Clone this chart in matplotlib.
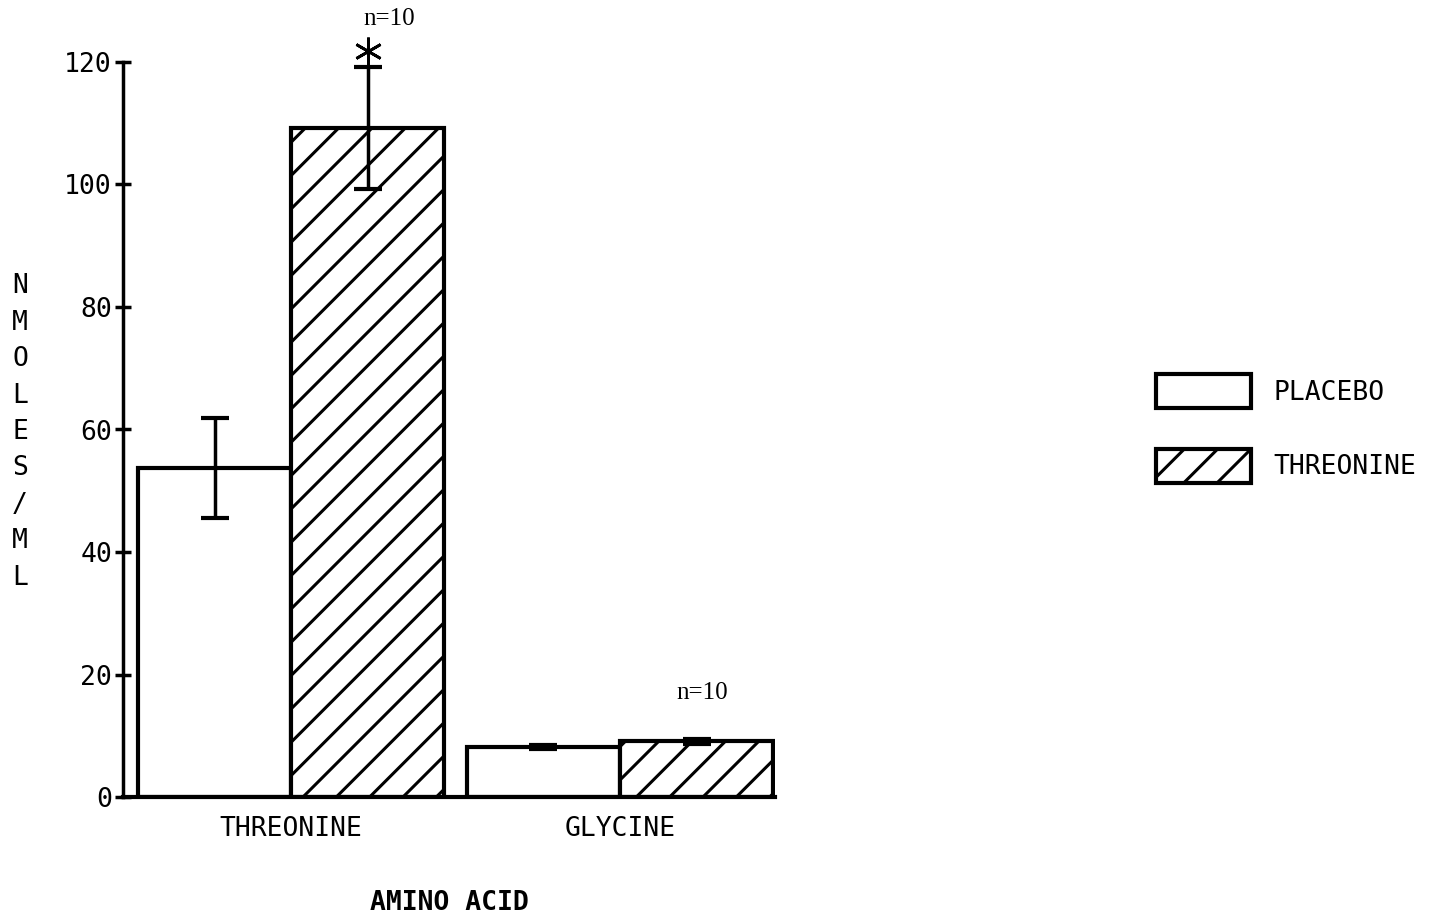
import matplotlib
matplotlib.use("Agg")
import matplotlib.pyplot as plt
import numpy as np

groups = ["THREONINE", "GLYCINE"]
placebo = [53.7, 8.2]
placebo_err = [8.2, 0.3]
threonine = [109.2, 9.1]
threonine_err = [10.0, 0.4]
n_labels = ["n=10", "n=10"]
n_label_y = [127.0, 17.0]
star_y = [121.8]

mono = "DejaVu Sans Mono"
plt.rcParams["hatch.linewidth"] = 2.2

fig = plt.figure(figsize=(14.48, 9.21), dpi=100)
ax = fig.add_axes([123 / 1448, 1 - 797 / 921, (775 - 123) / 1448, (797 - 62) / 921])

x = np.array([0.0, 2.15])
w = 1.0
b1 = ax.bar(x - w / 2, placebo, w, color="white", edgecolor="black", linewidth=3,
            label="PLACEBO", zorder=2)
b2 = ax.bar(x + w / 2, threonine, w, color="white", edgecolor="black", linewidth=3,
            hatch="/", label="THREONINE", zorder=2)
ax.errorbar(x - w / 2, placebo, yerr=placebo_err, fmt="none", ecolor="black",
            elinewidth=2.5, capsize=10, capthick=3, zorder=3)
ax.errorbar(x + w / 2, threonine, yerr=threonine_err, fmt="none", ecolor="black",
            elinewidth=2.5, capsize=10, capthick=3, zorder=3)

# significance mark and n labels
ax.plot([x[0] + w / 2], star_y, marker=(6, 2, 0), markersize=20, color="black",
        markeredgewidth=2, clip_on=False, zorder=4)
ax.text(x[0] + w / 2 + 0.14, n_label_y[0], n_labels[0], ha="center", va="center",
        fontsize=18, family="Liberation Serif", clip_on=False)
ax.text(x[1] + w / 2 + 0.04, n_label_y[1], n_labels[1], ha="center", va="center",
        fontsize=18, family="Liberation Serif")

ax.set_xlim(-1.098, 3.163)
ax.set_ylim(0, 120)
ax.set_yticks(np.arange(0, 121, 20))
ax.set_xticks(x)
ax.set_xticklabels(groups, family=mono, fontsize=19)
for lab in ax.get_yticklabels():
    lab.set_family(mono)
    lab.set_fontsize(19)
ax.tick_params(axis="y", direction="inout", length=12, width=2.5, pad=2)
ax.tick_params(axis="x", length=0, pad=14)

ax.spines["top"].set_visible(False)
ax.spines["right"].set_visible(False)
ax.spines["left"].set_linewidth(2.5)
ax.spines["bottom"].set_linewidth(3)

ax.set_xlabel("AMINO ACID", family=mono, fontsize=19, fontweight="bold", labelpad=34)
fig.text(20 / 1448, 1 - 432 / 921, "N\nM\nO\nL\nE\nS\n/\nM\nL", family=mono,
         fontsize=19, ha="center", va="center", linespacing=1.52)

fig.legend(handles=[b1, b2], loc="upper left",
           bbox_to_anchor=(1156 / 1448, 1 - 374 / 921), frameon=False,
           prop={"family": mono, "size": 19}, handlelength=3.6, handleheight=1.6,
           labelspacing=1.55, handletextpad=0.85, borderpad=0, borderaxespad=0)

fig.savefig("out.png", dpi=100)
